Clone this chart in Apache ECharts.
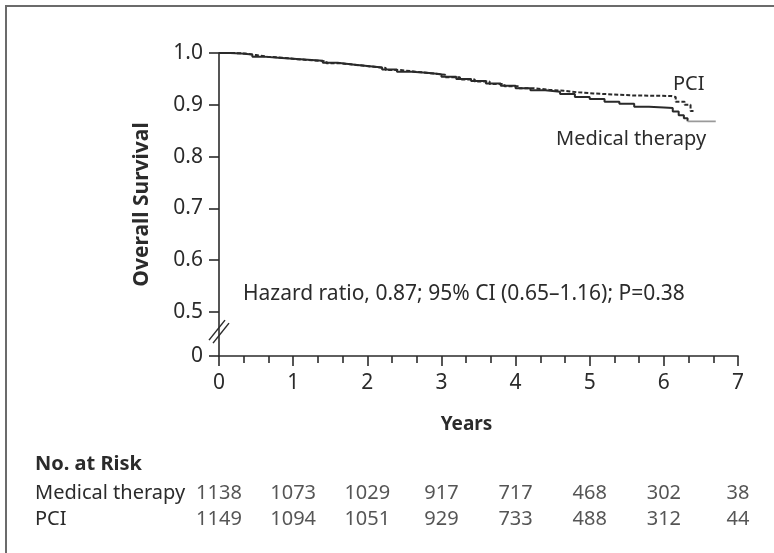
<!DOCTYPE html>
<html>
<head>
<meta charset="utf-8">
<script src="https://cdn.jsdelivr.net/npm/echarts@6/dist/echarts.min.js"></script>
<style>
  html, body { margin: 0; padding: 0; background: #fff; }
  #chart { width: 774px; height: 553px; }
  #frame { position: absolute; left: 5px; top: 5px; width: 780px; height: 560px;
           border-left: 2px solid #6b6b6b; border-top: 2px solid #6b6b6b; pointer-events: none; }
</style>
</head>
<body>
<div id="chart"></div>
<div id="frame"></div>
<script>
// Kaplan-Meier step points [years, survival]
const medicalCurve = [
  [0, 1.0], [0.15, 0.999], [0.3, 0.997], [0.45, 0.993], [0.6, 0.991], [0.8, 0.989],
  [1.0, 0.987], [1.2, 0.985], [1.4, 0.981], [1.6, 0.978], [1.8, 0.975], [2.0, 0.972],
  [2.2, 0.968], [2.4, 0.964], [2.6, 0.962], [2.8, 0.959], [3.0, 0.954], [3.2, 0.95],
  [3.4, 0.946], [3.6, 0.941], [3.8, 0.937], [4.0, 0.932], [4.2, 0.928], [4.4, 0.925],
  [4.6, 0.921], [4.8, 0.915], [5.0, 0.911], [5.2, 0.906], [5.4, 0.902], [5.6, 0.896],
  [5.8, 0.895], [6.0, 0.894], [6.12, 0.887], [6.2, 0.88], [6.27, 0.874], [6.32, 0.868]
]
const medicalTail = [[6.32, 0.868], [6.7, 0.868]]
const pciCurve = [
  [0, 1.0], [0.18, 0.999], [0.35, 0.996], [0.5, 0.993], [0.65, 0.991], [0.85, 0.988],
  [1.05, 0.986], [1.25, 0.984], [1.45, 0.98], [1.65, 0.977], [1.85, 0.974], [2.05, 0.971],
  [2.25, 0.967], [2.45, 0.964], [2.65, 0.961], [2.85, 0.958], [3.05, 0.953], [3.25, 0.949],
  [3.45, 0.945], [3.65, 0.94], [3.85, 0.936], [4.05, 0.932], [4.25, 0.929], [4.45, 0.927],
  [4.65, 0.924], [4.85, 0.922], [5.05, 0.92], [5.3, 0.918], [5.6, 0.917], [6.1, 0.915],
  [6.16, 0.906], [6.28, 0.9], [6.36, 0.888], [6.4, 0.888]
]

const riskYears = [0, 1, 2, 3, 4, 5, 6, 7]
const riskMedical = [1138, 1073, 1029, 917, 717, 468, 302, 38]
const riskPCI = [1149, 1094, 1051, 929, 733, 488, 312, 44]
const riskRows = ['Medical therapy', 'PCI']

const yTicks = [0.415, 0.5, 0.6, 0.7, 0.8, 0.9, 1.0]  // 0.415 stands in for the broken-axis 0
const hazardText = 'Hazard ratio, 0.87; 95% CI (0.65\u20131.16); P=0.38'

const FONT = 'Noto Sans'
const INK = '#2b2b2b'

const riskData = []
riskYears.forEach((yr, i) => {
  riskData.push([yr, riskRows[0], riskMedical[i]])
  riskData.push([yr, riskRows[1], riskPCI[i]])
})

const chart = echarts.init(document.getElementById('chart'), null, { renderer: 'canvas' })

const labels = [
  { type: 'text', left: 243, top: 284, style: { text: hazardText, font: '21px "Noto Sans"', fill: INK } },
  { type: 'text', left: 673, top: 74, style: { text: 'PCI', font: '20px "Noto Sans"', fill: INK } },
  { type: 'text', left: 556, top: 129, style: { text: 'Medical therapy', font: '20px "Noto Sans"', fill: INK } }
]

const option = {
  animation: false,
  textStyle: { fontFamily: FONT, color: INK },
  title: {
    text: 'No. at Risk', left: 35, top: 454, padding: 0,
    textStyle: { fontFamily: FONT, fontSize: 20, fontWeight: 'bold', color: INK }
  },
  grid: [
    { left: 219, right: 36, top: 53, height: 303 },
    { left: 219, right: 36, top: 480, height: 52 }
  ],
  xAxis: [
    {
      gridIndex: 0, type: 'value', min: 0, max: 7, interval: 1,
      name: 'Years', nameLocation: 'middle', nameGap: 59,
      nameTextStyle: { fontFamily: FONT, fontSize: 19, fontWeight: 'bold', color: INK, padding: [0, 24, 0, 0] },
      axisLine: { onZero: false, lineStyle: { color: INK, width: 1.6 } },
      axisTick: { inside: false, length: 10, lineStyle: { color: INK, width: 1.6 } },
      minorTick: { show: true, splitNumber: 3, length: 7, lineStyle: { color: INK, width: 1.6 } },
      axisLabel: { fontFamily: FONT, fontSize: 21, color: INK, margin: 17 },
      splitLine: { show: false }
    },
    {
      gridIndex: 1, type: 'value', min: 0, max: 7, show: false
    }
  ],
  yAxis: [
    {
      gridIndex: 0, type: 'value', min: 0.415, max: 1.0,
      name: 'Overall Survival', nameLocation: 'middle', nameGap: 66, nameRotate: 90,
      nameTextStyle: { fontFamily: FONT, fontSize: 21, fontWeight: 'bold', color: INK },
      axisLine: { show: true, onZero: false, lineStyle: { color: INK, width: 1.6 } },
      axisTick: { show: true, inside: false, length: 10, customValues: yTicks, lineStyle: { color: INK, width: 1.6 } },
      axisLabel: {
        fontFamily: FONT, fontSize: 21, color: INK, margin: 16, customValues: yTicks,
        formatter: v => (v < 0.45 ? '0' : v.toFixed(1))
      },
      splitLine: { show: false }
    },
    {
      gridIndex: 1, type: 'category', data: riskRows, inverse: true,
      axisLine: { show: false }, axisTick: { show: false },
      axisLabel: { interval: 0, fontFamily: FONT, fontSize: 20, color: INK, align: 'left', margin: 184 }
    }
  ],
  series: [
    {
      name: 'Medical therapy', type: 'line', step: 'end', data: medicalCurve,
      showSymbol: false, lineStyle: { color: '#2a2a2a', width: 2 }
    },
    {
      name: 'Medical therapy tail', type: 'line', step: 'end', data: medicalTail,
      showSymbol: false, lineStyle: { color: '#9a9a9a', width: 1.6 }
    },
    {
      name: 'PCI', type: 'line', step: 'end', data: pciCurve,
      showSymbol: false, lineStyle: { color: '#2a2a2a', width: 2, type: [4, 2] }
    },
    {
      name: 'At risk', type: 'scatter', xAxisIndex: 1, yAxisIndex: 1,
      data: riskData, symbolSize: 0,
      label: {
        show: true, position: 'inside', fontFamily: FONT, fontSize: 20, color: INK,
        formatter: p => p.value[2]
      }
    }
  ],
  graphic: labels
}

chart.setOption(option)

// axis-break marks across the y axis between 0 and 0.5
const p = chart.convertToPixel({ gridIndex: 0 }, [0, 0.463])
chart.setOption({
  graphic: labels.concat([
    { type: 'rect', shape: { x: p[0] - 4, y: p[1] - 8, width: 8, height: 14 }, style: { fill: '#fff' } },
    { type: 'line', shape: { x1: p[0] - 10, y1: p[1] + 9, x2: p[0] + 6, y2: p[1] - 11 }, style: { stroke: INK, lineWidth: 1.5 } },
    { type: 'line', shape: { x1: p[0] - 6, y1: p[1] + 12, x2: p[0] + 10, y2: p[1] - 8 }, style: { stroke: INK, lineWidth: 1.5 } }
  ])
}, { replaceMerge: ['graphic'] })
</script>
</body>
</html>
